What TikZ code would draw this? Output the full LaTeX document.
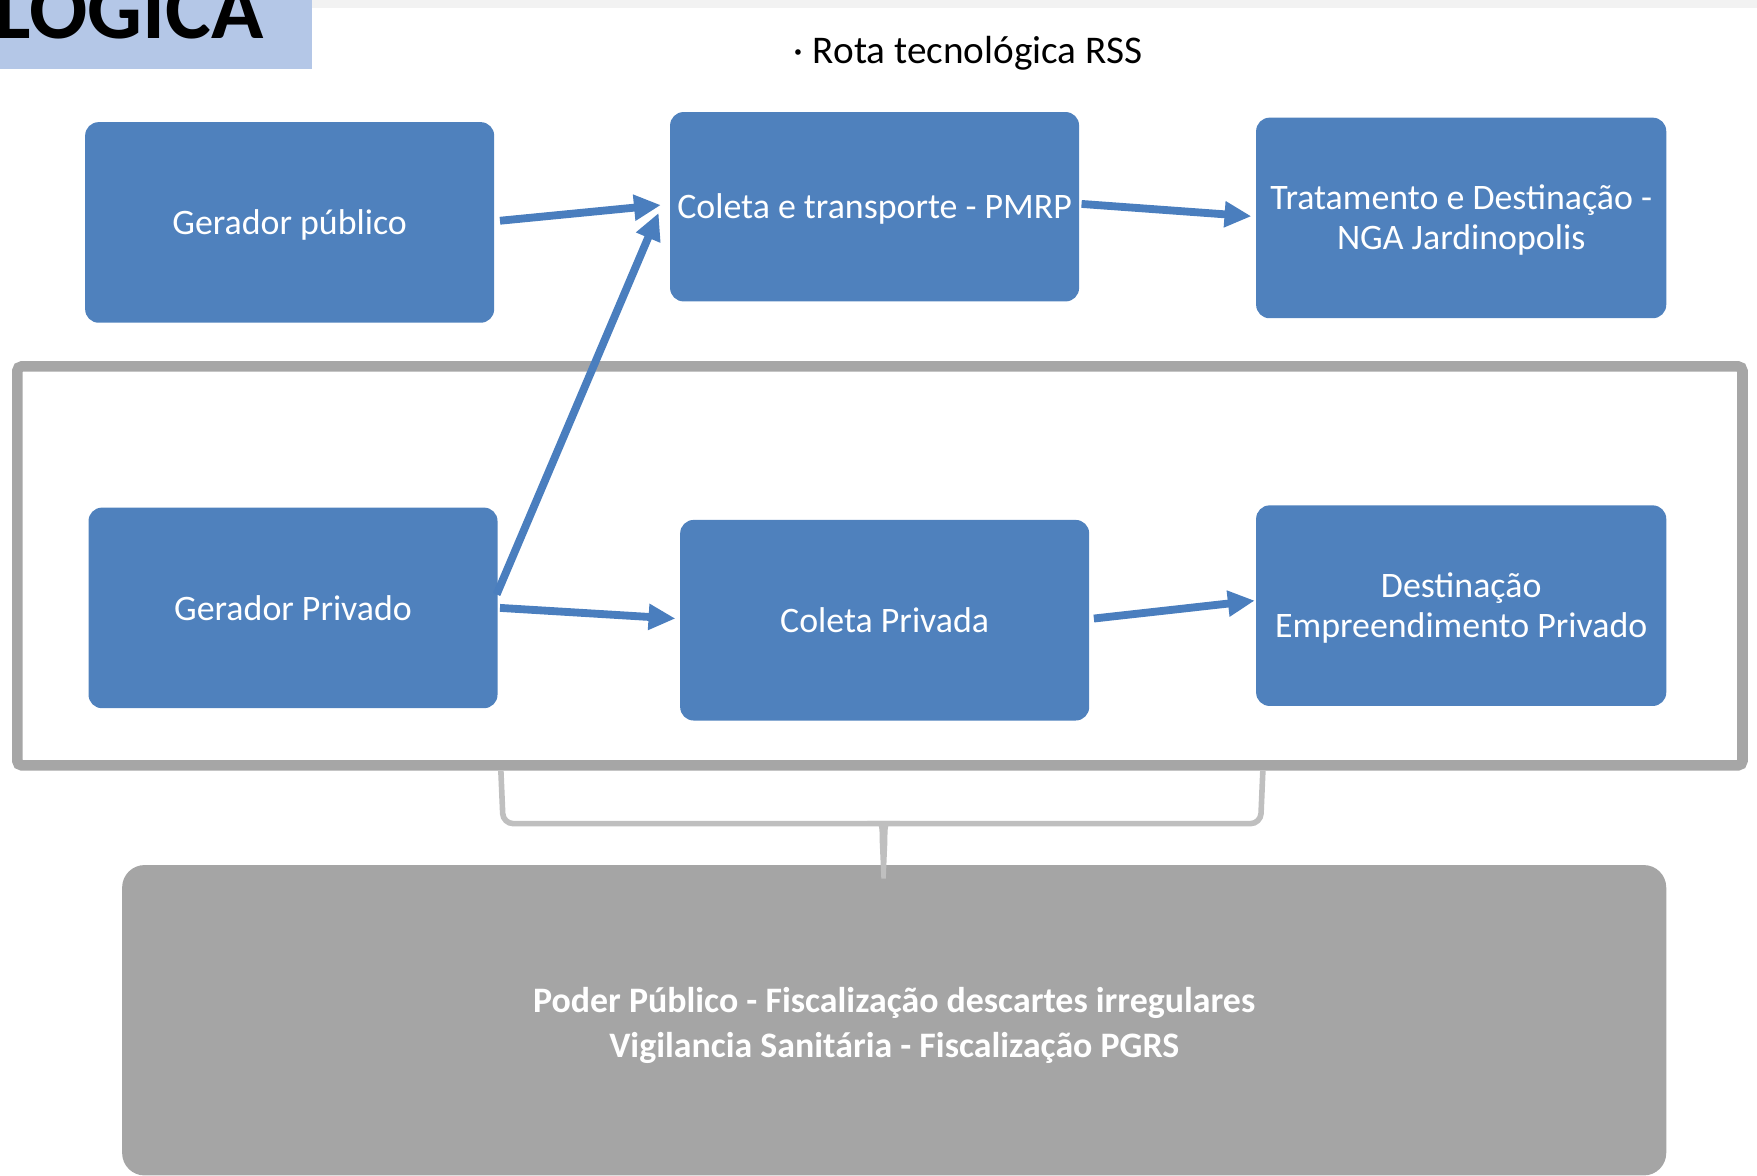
\documentclass[tikz,border=0pt]{standalone}
\usepackage{fontspec}
\setmainfont{Carlito}
\usetikzlibrary{arrows.meta}
\definecolor{boxblue}{HTML}{4F81BD}
\definecolor{arrblue}{HTML}{4A7EBE}
\definecolor{lightblue}{HTML}{B4C7E7}
\definecolor{stripgray}{HTML}{F2F2F2}
\definecolor{framegray}{HTML}{A6A6A6}
\definecolor{bracegray}{HTML}{BFBFBF}
\definecolor{fiscgray}{HTML}{A5A5A5}
\newcommand{\lowerby}[2]{\raisebox{-#1}[\height][\depth]{#2}}
\tikzset{
  bluebox/.style={fill=boxblue, draw=none, rounded corners=12pt, minimum width=365pt,
    minimum height=179pt, text=white, align=center, inner sep=0pt,
    font=\fontsize{32}{36}\selectfont},
  arr/.style={draw=arrblue, line width=7pt, -{Triangle[length=24pt,width=22pt]}},
}
\begin{document}
\begin{tikzpicture}[x=1pt,y=-1pt]
\useasboundingbox (0,0) rectangle (1568,1049);
\clip (0,0) rectangle (1568,1049);
% top decorations
\fill[stripgray] (278,0) rectangle (1568,7);
\fill[lightblue] (0,0) rectangle (278,62);
\node[anchor=base west, inner sep=0pt, font=\fontsize{77}{80}\selectfont\bfseries] (logica) at (-5,34) {LOGICA};
\node[anchor=base, inner sep=0pt, font=\fontsize{35}{40}\selectfont] (title) at (864,57) {·\kern8pt Rota tecnológica RSS};
% frame
\draw[framegray, line width=9.5pt, rounded corners=4pt] (15.5,327) rectangle (1555,683);
% boxes
\node[bluebox] (g1) at (258.5,198.5) {\lowerby{2pt}{Gerador público}};
\node[bluebox, minimum height=169pt] (c1) at (780.5,184.5) {\lowerby{2pt}{Coleta e transporte - PMRP}};
\node[bluebox, minimum width=366pt] (t1) at (1304,194.5) {\lowerby{2pt}{Tratamento e Destinação -}\\\lowerby{2pt}{NGA Jardinopolis}};
\node[bluebox] (g2) at (261.5,542.5) {Gerador Privado};
\node[bluebox] (cp) at (789.5,553.5) {Coleta Privada};
\node[bluebox, minimum width=366pt] (d1) at (1304,540.5) {\lowerby{2pt}{Destinação}\\\lowerby{2pt}{Empreendimento Privado}};
% fiscalization box
\node[fill=fiscgray, rounded corners=20pt, minimum width=1378pt, minimum height=277pt,
  inner sep=0pt, text=white, align=center,
  font=\fontsize{32}{40}\selectfont\bfseries] (fisc) at (798,910.5)
  {\lowerby{5pt}{Poder Público - Fiscalização descartes irregulares}\\\lowerby{5pt}{Vigilancia Sanitária - Fiscalização PGRS}};
% bracket
\coordinate (bl) at (447,688);
\coordinate (br) at (1127,688);
\draw[bracegray, line width=5pt, rounded corners=9pt] (bl) -- (449,735) -- (1125,735) -- (br);
\fill[bracegray] (774,732.5) .. controls (785,734) .. (785,750) -- (786.5,784) -- (790.5,784)
  -- (792,750) .. controls (792,734) .. (803,732.5) -- cycle;
% arrows
\draw[arr] ([shift={(5,-1.5)}]g1.east) -- ([shift={(-8,-1.5)}]c1.west);
\draw[arr] ([shift={(-1,-12)}]g2.east) -- ([shift={(-10,5.5)}]c1.west);
\draw[arr] ([shift={(2,0)}]g2.east) -- ([shift={(-4,-1.5)}]cp.west);
\draw[arr] ([shift={(2,-2.5)}]c1.east) -- ([shift={(-4,-1.5)}]t1.west);
\draw[arr] ([shift={(4,-1.5)}]cp.east) -- ([shift={(-1,-4.5)}]d1.west);
\end{tikzpicture}
\end{document}
